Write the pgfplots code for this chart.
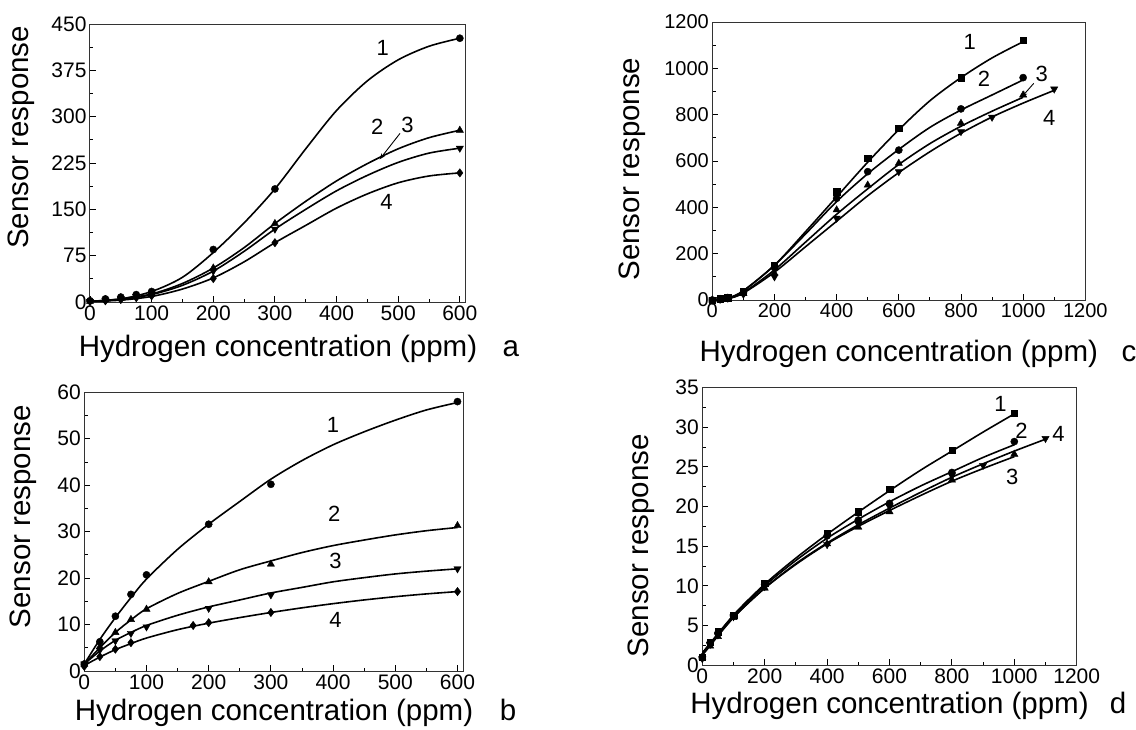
\documentclass[border=0pt]{standalone}
\usepackage{fontspec}
\setmainfont{Liberation Sans}
\usepackage{pgfplots}
\pgfplotsset{compat=1.18}
\usetikzlibrary{arrows.meta}

\newcommand{\labfont}{\fontsize{29.5}{34}\selectfont}

\pgfplotsset{
  panel/.style={
    scale only axis, anchor=south west,
    axis line style={black!80, line width=1pt},
    tick align=inside, xtick pos=left, ytick pos=left,
    major tick length=6pt, minor tick length=3.5pt,
    every tick/.style={black, line width=0.9pt},
    tick label style={font=\fontsize{21}{25}\selectfont},
    xlabel={Hydrogen concentration (ppm)},
    ylabel={Sensor response},
    label style={font=\labfont},
    xmin=0,
  },
  xlab/.style={xlabel style={at={(axis description cs:0.5,0)}, anchor=base, yshift=-#1}},
  ylab/.style 2 args={ylabel style={at={(axis description cs:#1,#2)}, anchor=center}},
  fit/.style={black, line width=1.6pt, smooth, no marks},
  pts/.style={black, only marks, mark size=3.6pt},
  tri/.style={pts, mark=triangle*, mark size=4.2pt},
  dtri/.style={pts, mark=triangle*, mark size=4.2pt, mark options={rotate=180}},
  dia/.style={pts, mark=diamond*, mark size=4.2pt},
  sq/.style={pts, mark=square*, mark size=3.2pt},
}
\tikzset{num/.style={font=\fontsize{22}{26}\selectfont}}

\begin{document}
\begin{tikzpicture}
\useasboundingbox (0,0) rectangle (1136pt,-729pt);

% ---- panel a ----
\begin{axis}[panel, at={(90pt,-302pt)}, width=376pt, height=278pt,
  xlab=54pt, ylab={-0.183}{0.592},
  xmax=610, ymin=0, ymax=450,
  xtick={0,100,...,600}, xticklabels={0,100,200,300,400,500,600}, minor x tick num=1,
  ytick={0,75,...,450}, yticklabels={0,75,150,225,300,375,450}, minor y tick num=1]
\addplot[fit] coordinates {(0,1) (50,5) (100,17) (150,40) (200,80) (250,128) (300,183) (350,248) (400,310) (450,358) (500,392) (550,414) (600,427)};
\addplot[fit] coordinates {(0,1) (50,5) (100,13) (150,30) (200,55) (250,88) (300,127) (350,163) (400,196) (450,224) (500,248) (550,266) (600,278)};
\addplot[fit] coordinates {(0,1) (50,4) (100,12) (150,27) (200,50) (250,82) (300,118) (350,150) (400,180) (450,205) (500,226) (550,241) (600,249)};
\addplot[fit] coordinates {(0,1) (50,3) (100,9) (150,21) (200,39) (250,65) (300,96) (350,124) (400,152) (450,175) (500,193) (550,204) (600,209)};
\addplot[pts, mark=*] coordinates {(0,2) (25,5) (50,8) (75,12) (100,17) (200,85) (300,183) (600,427)};
\addplot[tri] coordinates {(0,1) (25,4) (50,6) (75,10) (100,14) (200,55) (300,127) (600,278)};
\addplot[dtri] coordinates {(0,1) (25,3) (50,5) (75,9) (100,12) (200,50) (300,118) (600,249)};
\addplot[dia] coordinates {(0,1) (25,2) (50,4) (75,7) (100,10) (200,38) (300,96) (600,209)};
\node[num] at (axis cs:475,411) {1};
\node[num] at (axis cs:466,284) {2};
\node[num] at (axis cs:515,286) {3};
\node[num] at (axis cs:481,162) {4};
\draw[-{Stealth[length=6pt]}, line width=0.9pt] (axis cs:503,273) -- (axis cs:470,231);
\end{axis}
\node[font=\labfont, anchor=base] at (510.7pt,-356pt) {a};

% ---- panel b ----
\begin{axis}[panel, at={(84.3pt,-671pt)}, width=379.4pt, height=278.7pt,
  xlab=49pt, ylab={-0.161}{0.554},
  xmax=610, ymin=0, ymax=60,
  xtick={0,100,...,600}, xticklabels={0,100,200,300,400,500,600}, minor x tick num=1,
  ytick={0,10,...,60}, yticklabels={0,10,20,30,40,50,60}, minor y tick num=1]
\addplot[fit] coordinates {(0,1.5) (25,6.8) (50,11.5) (75,15.8) (100,19.8) (150,26.2) (200,31.6) (250,36.5) (300,41.3) (350,45.3) (400,48.7) (450,51.5) (500,54) (550,56.2) (600,57.8)};
\addplot[fit] coordinates {(0,1.5) (25,5) (50,8.3) (75,11) (100,13.4) (150,16.7) (200,19.3) (250,21.8) (300,23.7) (350,25.5) (400,27) (450,28.2) (500,29.3) (550,30.2) (600,30.9)};
\addplot[fit] coordinates {(0,1.5) (25,4.3) (50,6.6) (75,8.3) (100,9.8) (150,12) (200,13.8) (250,15.3) (300,16.8) (350,18) (400,19.2) (450,20.1) (500,20.9) (550,21.5) (600,22)};
\addplot[fit] coordinates {(0,1.2) (25,3) (50,4.6) (75,5.9) (100,7.1) (150,8.9) (200,10.3) (250,11.5) (300,12.6) (350,13.6) (400,14.5) (450,15.3) (500,16) (550,16.6) (600,17.1)};
\addplot[pts, mark=*] coordinates {(0,1.5) (25,6.3) (50,11.8) (75,16.5) (100,20.7) (200,31.6) (300,40.2) (600,58)};
\addplot[tri] coordinates {(0,1.5) (25,5.2) (50,8.3) (75,11.1) (100,13.3) (200,19.2) (300,23) (600,31.3)};
\addplot[dtri] coordinates {(0,1.5) (25,4.5) (50,6.5) (75,8.1) (100,9.5) (200,13.5) (300,16.4) (600,22)};
\addplot[dia] coordinates {(0,1) (25,3.1) (50,4.7) (75,6.1) (175,9.8) (200,10.4) (300,12.6) (600,17.1)};
\node[num] at (axis cs:400,53) {1};
\node[num] at (axis cs:402,33.8) {2};
\node[num] at (axis cs:404,23.7) {3};
\node[num] at (axis cs:404,11) {4};
\end{axis}
\node[font=\labfont, anchor=base] at (508pt,-720pt) {b};

% ---- panel c ----
\begin{axis}[panel, at={(712.3pt,-300pt)}, width=373pt, height=278pt,
  xlab=61.7pt, ylab={-0.215}{0.471},
  tick label style={font=\fontsize{20}{24}\selectfont},
  xmax=1200, ymin=0, ymax=1200,
  xtick={0,200,...,1200}, xticklabels={0,200,400,600,800,1000,1200}, minor x tick num=1,
  ytick={0,200,...,1200}, yticklabels={0,200,400,600,800,1000,1200}, minor y tick num=1]
\addplot[fit] coordinates {(0,0) (50,8) (100,40) (200,150) (300,295) (400,445) (500,595) (600,735) (700,860) (800,960) (900,1045) (1000,1115)};
\addplot[fit] coordinates {(0,0) (50,8) (100,40) (200,150) (300,285) (400,425) (500,545) (600,650) (700,745) (800,820) (900,885) (1000,950)};
\addplot[fit] coordinates {(0,0) (50,6) (100,32) (200,130) (300,250) (400,370) (500,480) (600,585) (700,675) (800,750) (900,815) (1000,875)};
\addplot[fit] coordinates {(0,0) (50,6) (100,30) (200,120) (300,230) (400,340) (500,450) (600,550) (700,640) (800,720) (900,790) (1000,850) (1100,905)};
\addplot[sq] coordinates {(0,0) (25,5) (50,10) (100,35) (200,150) (400,467) (500,612) (600,741) (800,960) (1000,1122)};
\addplot[pts, mark=*] coordinates {(0,0) (25,5) (50,10) (100,30) (200,140) (400,439) (500,554) (600,647) (800,825) (1000,960)};
\addplot[tri] coordinates {(0,0) (25,3) (50,8) (100,28) (200,115) (400,389) (500,496) (600,590) (800,763) (1000,885)};
\addplot[dtri] coordinates {(0,0) (25,3) (50,8) (100,25) (200,100) (400,353) (600,554) (800,727) (900,789) (1100,911)};
\node[num] at (axis cs:828,1115) {1};
\node[num] at (axis cs:874,954) {2};
\node[num] at (axis cs:1060,976) {3};
\node[num] at (axis cs:1084,784) {4};
\draw[-{Stealth[length=6pt]}, line width=0.9pt] (axis cs:1034,935) -- (axis cs:996,877);
\end{axis}
\node[font=\labfont, anchor=base] at (1129pt,-361.7pt) {c};

% ---- panel d ----
\begin{axis}[panel, at={(702.3pt,-665pt)}, width=374.4pt, height=277.3pt,
  xlab=48.3pt, ylab={-0.164}{0.43},
  xmax=1200, ymin=0, ymax=35,
  xtick={0,200,...,1200}, xticklabels={0,200,400,600,800,1000,1200}, minor x tick num=1,
  ytick={0,5,...,35}, yticklabels={0,5,10,15,20,25,30,35}, minor y tick num=1]
\addplot[fit] coordinates {(0,1.5) (100,6.3) (200,10.2) (300,13.5) (400,16.5) (500,19.3) (600,22) (700,24.6) (800,27) (900,29.4) (1000,31.7)};
\addplot[fit] coordinates {(0,1.5) (100,6.2) (200,10) (300,13.2) (400,16) (500,18.4) (600,20.6) (700,22.6) (800,24.4) (900,26.2) (1000,27.8)};
\addplot[fit] coordinates {(0,1.5) (100,6) (200,9.7) (300,12.7) (400,15.3) (500,17.5) (600,19.5) (700,21.4) (800,23.2) (900,24.8) (1000,26.3)};
\addplot[fit] coordinates {(0,1.2) (100,6) (200,9.7) (300,12.8) (400,15.4) (500,17.7) (600,19.8) (700,21.8) (800,23.7) (900,25.4) (1000,27) (1100,28.5)};
\addplot[sq] coordinates {(0,1) (25,2.9) (50,4.2) (100,6.3) (200,10.3) (400,16.6) (500,19.35) (600,22.2) (800,27.1) (1000,31.8)};
\addplot[pts, mark=*] coordinates {(0,1) (25,2.8) (50,4) (100,6.2) (200,10.2) (400,16.3) (500,18.3) (600,20.4) (800,24.3) (1000,28.2)};
\addplot[tri] coordinates {(0,1) (25,2.4) (50,3.6) (100,6) (200,9.7) (400,15.3) (500,17.4) (600,19.35) (800,23.35) (1000,26.6)};
\addplot[dtri] coordinates {(0,0.8) (25,2.6) (50,3.8) (100,6.1) (200,9.9) (400,15.2) (500,17.8) (600,20) (800,23.9) (900,25.2) (1100,28.6)};
\node[num] at (axis cs:956,33) {1};
\node[num] at (axis cs:1023,29.5) {2};
\node[num] at (axis cs:993,23.8) {3};
\node[num] at (axis cs:1142,29.2) {4};
\end{axis}
\node[font=\labfont, anchor=base] at (1118pt,-713.3pt) {d};
\end{tikzpicture}
\end{document}
